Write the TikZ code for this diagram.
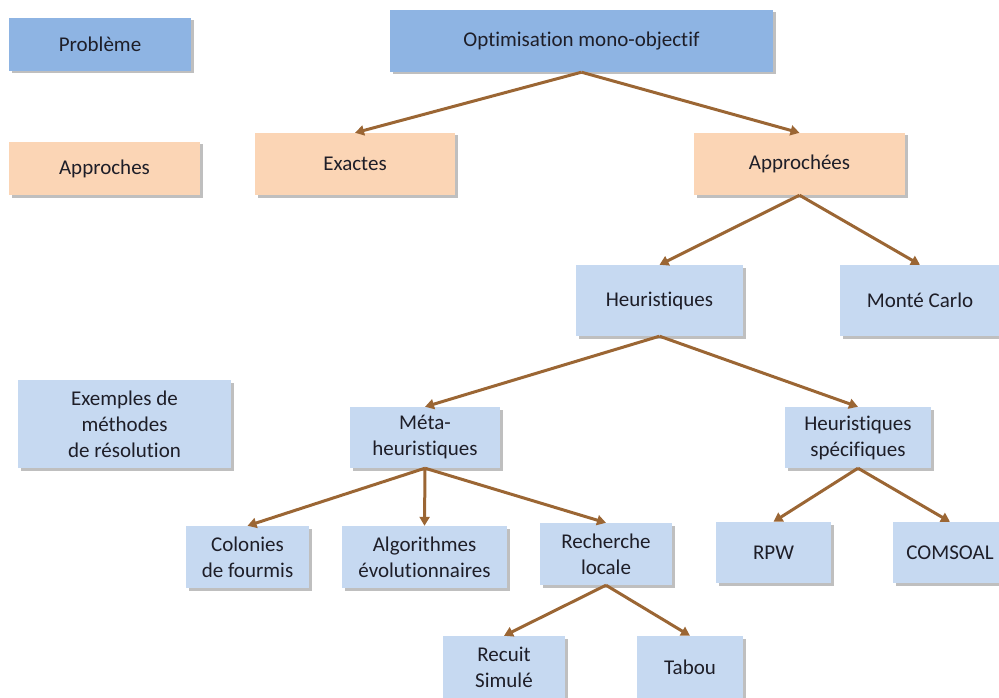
\documentclass[tikz,border=0pt]{standalone}
\usepackage{fontspec}
\setmainfont{Carlito}[Ligatures=NoCommon]
\usepackage{tikz}
\usetikzlibrary{arrows.meta, shadows}

\definecolor{probblue}{RGB}{142,180,227}
\definecolor{approrange}{RGB}{251,213,181}
\definecolor{methblue}{RGB}{198,217,241}
\definecolor{linkbrown}{RGB}{155,102,52}
\definecolor{textgray}{RGB}{30,30,40}

\begin{document}
\begin{tikzpicture}[x=1pt, y=1pt,
    box/.style={rectangle, inner sep=0pt, align=center, text=textgray,
        font=\fontsize{21}{26}\selectfont,
        drop shadow={shadow xshift=2.5pt, shadow yshift=-2.5pt, fill=black!50, opacity=0.5}},
    probbox/.style={box, fill=probblue},
    apprbox/.style={box, fill=approrange},
    methbox/.style={box, fill=methblue},
    link/.style={-{Triangle[length=9pt, width=10pt]}, line width=3pt, draw=linkbrown}]
        \useasboundingbox (0,0) rectangle (999,-698);
        % left column
        \node[probbox, minimum width=182, minimum height=53] (prob) at (100,-44.5) {Problème};
        \node[apprbox, minimum width=191, minimum height=53] (appr) at (104.5,-168.5) {Approches};
        \node[methbox, minimum width=213, minimum height=88] (exm) at (124.5,-424) {Exemples de\\méthodes\\de résolution};
        % tree
        \node[probbox, minimum width=383, minimum height=62] (opt) at (581.5,-41) {Optimisation mono-objectif};
        \node[apprbox, minimum width=200, minimum height=62] (exa) at (355,-164) {Exactes};
        \node[apprbox, minimum width=211, minimum height=62] (apc) at (799.5,-164) {Approchées};
        \node[methbox, minimum width=167, minimum height=71] (heu) at (659.5,-300.5) {Heuristiques};
        \node[methbox, minimum width=160, minimum height=71] (mc) at (920,-300.5) {Monté Carlo};
        \node[methbox, minimum width=150, minimum height=61] (meta) at (425,-437.5) {Méta-\\heuristiques};
        \node[methbox, minimum width=146, minimum height=61] (hs) at (858,-437.5) {Heuristiques\\spécifiques};
        \node[methbox, minimum width=123, minimum height=62] (col) at (247.5,-557) {Colonies\\de fourmis};
        \node[methbox, minimum width=165, minimum height=62] (alg) at (424.5,-557) {Algorithmes\\évolutionnaires};
        \node[methbox, minimum width=132, minimum height=62] (rec) at (606,-554) {Recherche\\locale};
        \node[methbox, minimum width=115, minimum height=61] (rpw) at (773.5,-552.5) {RPW};
        \node[methbox, minimum width=114, minimum height=61] (com) at (950,-552.5) {COMSOAL};
        \node[methbox, minimum width=122, minimum height=62] (rs) at (504,-667) {Recuit\\Simulé};
        \node[methbox, minimum width=106, minimum height=62] (tab) at (690,-667) {Tabou};
        % links
        \draw[link] (opt.south) -- (exa.north);
        \draw[link] (opt.south) -- (apc.north);
        \draw[link] (apc.south) -- (heu.north);
        \draw[link] (apc.south) -- (mc.north);
        \draw[link] (heu.south) -- (meta.north);
        \draw[link] (heu.south) -- (hs.north);
        \draw[link] (meta.south) -- (col.north);
        \draw[link] (meta.south) -- (alg.north);
        \draw[link] (meta.south) -- (rec.north);
        \draw[link] (hs.south) -- (rpw.north);
        \draw[link] (hs.south) -- (com.north);
        \draw[link] (rec.south) -- (rs.north);
        \draw[link] (rec.south) -- (tab.north);
\end{tikzpicture}
\end{document}
